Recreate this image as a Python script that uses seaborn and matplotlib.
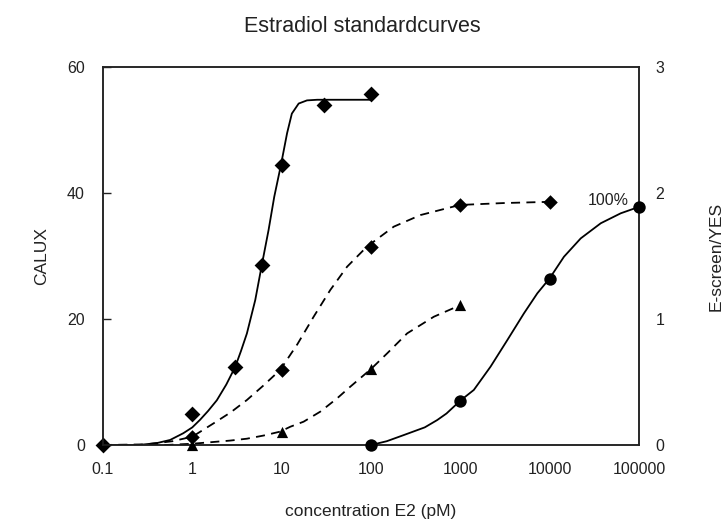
import numpy as np
import pandas as pd
import matplotlib
matplotlib.use("Agg")
import matplotlib.pyplot as plt
import seaborn as sns

sns.set_theme(style="white")
plt.rcParams['font.family'] = ['Liberation Sans', 'DejaVu Sans']

# ---- measured points (markers) ----
calux_x = [0.1, 1, 3, 6, 10, 30, 100]
calux_y = [0.0, 5.0, 12.4, 28.6, 44.4, 54.0, 55.7]          # left axis (CALUX)

escreen_x = [1, 10, 100, 1000, 10000]
escreen_y = [0.066, 0.595, 1.57, 1.905, 1.93]              # right axis

yes_x = [1, 10, 100, 1000]
yes_y = [0.0, 0.106, 0.603, 1.11]                            # right axis

circ_x = [100, 1000, 10000, 100000]
circ_y = [0.0, 0.352, 1.32, 1.89]                            # right axis

# ---- fitted curves ----
calux_cx = [0.1, 0.25, 0.4, 0.564, 0.79, 1.0, 1.22, 1.5, 1.88, 2.4, 3.02, 3.5, 4.08,
            5.06, 6.0, 7.13, 8.26, 9.8, 11.5, 13.0, 15.5, 19.2, 25, 35, 60, 100]
calux_cy = [0.0, 0.0, 0.3, 0.8, 1.86, 2.8, 4.0, 5.4, 7.1, 9.6, 12.4, 14.9, 17.7,
            23.0, 28.6, 34.1, 39.4, 44.4, 49.5, 52.6, 54.2, 54.7, 54.8, 54.8, 54.8, 54.8]

escreen_cx = [0.1, 0.3, 0.6, 1.0, 1.73, 2.7, 4.08, 6.2, 9.6, 15, 22.8, 35, 54, 90,
              180, 358, 986, 3000, 10000]
escreen_cy = [0.0, 0.005, 0.03, 0.066, 0.172, 0.26, 0.357, 0.47, 0.595, 0.80, 1.018,
              1.23, 1.415, 1.574, 1.733, 1.825, 1.905, 1.92, 1.93]

yes_cx = [0.1, 0.5, 1.0, 2.65, 4.08, 6.27, 9.6, 12.5, 17.6, 27.1, 41.7, 58.7, 100,
          152, 254, 505, 1000]
yes_cy = [0.0, 0.0, 0.01, 0.035, 0.05, 0.075, 0.106, 0.145, 0.185, 0.265, 0.37, 0.463,
          0.603, 0.728, 0.886, 1.018, 1.11]

circ_cx = [100, 150, 233, 400, 551, 700, 1000, 1416, 2180, 3360, 5155, 7278, 10000,
           14450, 22280, 37350, 62500, 100000]
circ_cy = [0.0, 0.03, 0.079, 0.14, 0.198, 0.25, 0.352, 0.437, 0.622, 0.833, 1.045,
           1.204, 1.323, 1.494, 1.64, 1.76, 1.839, 1.89]

left_ticks = [0, 20, 40, 60]
right_ticks = [0, 1, 2, 3]
x_ticks = [0.1, 1, 10, 100, 1000, 10000, 100000]
x_ticklabels = ["0.1", "1", "10", "100", "1000", "10000", "100000"]

fig = plt.figure(figsize=(7.26, 5.26), dpi=100)
ax = fig.add_axes([103/726, 1-445/526, (639-103)/726, (445-67)/526])
ax2 = ax.twinx()

lw = 1.3
dash = (0, (5, 3.5))

# CALUX on left axis
sns.lineplot(x=calux_cx, y=calux_cy, ax=ax, color='black', lw=lw, sort=False, estimator=None)
sns.scatterplot(x=calux_x, y=calux_y, ax=ax, marker='D', s=65, color='black',
                edgecolor='black', linewidth=0, clip_on=False, zorder=5)

# Right axis series
sns.lineplot(x=escreen_cx, y=escreen_cy, ax=ax2, color='black', lw=lw, linestyle=dash,
             sort=False, estimator=None)
sns.lineplot(x=yes_cx, y=yes_cy, ax=ax2, color='black', lw=lw, linestyle=dash,
             sort=False, estimator=None)
sns.lineplot(x=circ_cx, y=circ_cy, ax=ax2, color='black', lw=lw, sort=False, estimator=None)
sns.scatterplot(x=escreen_x, y=escreen_y, ax=ax2, marker='D', s=55, color='black',
                linewidth=0, clip_on=False, zorder=5)
sns.scatterplot(x=yes_x, y=yes_y, ax=ax2, marker='^', s=65, color='black',
                linewidth=0, clip_on=False, zorder=5)
sns.scatterplot(x=circ_x, y=circ_y, ax=ax2, marker='o', s=80, color='black',
                linewidth=0, clip_on=False, zorder=5)

ax2.text(76000, 1.94, "100%", ha='right', va='center', fontsize=11.5, color='#222222')

for a in (ax, ax2):
    a.set_xscale('log')
    a.set_xlim(0.1, 100000)
ax.set_ylim(0, 60)
ax2.set_ylim(0, 3)
ax.set_yticks(left_ticks)
ax.set_yticklabels([str(t) for t in left_ticks], fontsize=11.5)
ax2.set_yticks(right_ticks)
ax2.set_yticklabels([str(t) for t in right_ticks], fontsize=11.5)
ax.set_xticks(x_ticks)
ax.set_xticklabels(x_ticklabels, fontsize=11.5)

ax.tick_params(axis='x', which='major', direction='in', length=6, width=1, pad=12, colors='#222222')
ax.tick_params(axis='x', which='minor', direction='in', length=3.5, width=0.8, colors='#222222')
ax.tick_params(axis='y', which='major', direction='in', length=6, width=1, pad=13, colors='#222222')
ax2.tick_params(axis='y', which='major', length=0, pad=12, colors='#222222')
ax2.tick_params(axis='x', which='both', length=0)

for a in (ax, ax2):
    for s in a.spines.values():
        s.set_color('#222222')
        s.set_linewidth(1.1)

ax.set_ylabel("CALUX", fontsize=12.5, labelpad=13, color='#222222')
ax2.set_ylabel("E-screen/YES", fontsize=12.5, labelpad=32, color='#222222')
ax.set_xlabel("concentration E2 (pM)", fontsize=12.5, labelpad=20, color='#222222')
fig.text(362/726, 1-26/526, "Estradiol standardcurves", ha='center', va='center',
         fontsize=15.5, color='#222222')

fig.savefig("out.png", dpi=100)
